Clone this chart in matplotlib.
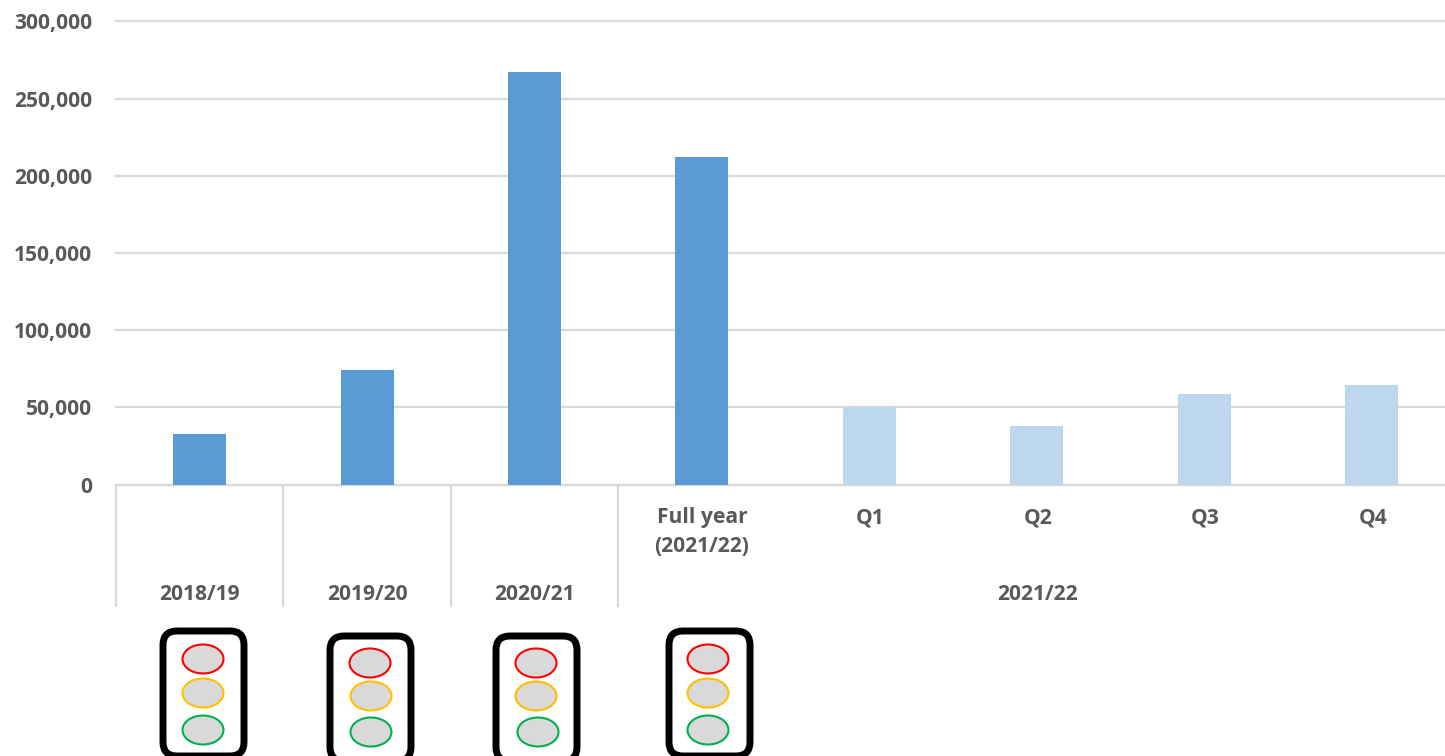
import matplotlib
matplotlib.use("Agg")
import matplotlib.pyplot as plt
from matplotlib.patches import Ellipse, FancyBboxPatch
from matplotlib.ticker import FuncFormatter

plt.rcParams["font.family"] = ["Open Sans", "DejaVu Sans"]

# Annual totals followed by the 2021/22 quarters
categories = ["2018/19", "2019/20", "2020/21", "Full year\n(2021/22)", "Q1", "Q2", "Q3", "Q4"]
annual_values = [32700, 74200, 267600, 212200]
quarter_values = [50200, 37900, 58600, 64500]
yticks = [0, 50000, 100000, 150000, 200000, 250000, 300000]

# Traffic light signs under the annual bars: box left, box top, light x, light y's
signs = [
    (160, 628, [203, 203, 203], [659, 693, 730]),
    (327, 633, [370, 371, 371], [663, 696, 732]),
    (493, 633, [536, 536, 538], [663, 696, 732]),
    (666, 628, [708, 708, 708], [659, 693, 730]),
]
light_edges = ["#ff0000", "#ffc000", "#00b050"]

W, H = 1445, 756
GREY = "#595959"
RULE = "#d9d9d9"
FS = 15.1

fig = plt.figure(figsize=(W / 100, H / 100), dpi=100)

# plot area runs off the right edge, one category is 167.4 px wide
ax = fig.add_axes([116 / W, 1 - 484.5 / H, (W - 116) / W, 463 / H])
ax.set_xlim(-0.5, -0.5 + (W - 116) / 167.4)
ax.set_ylim(0, 300000)

xs = list(range(len(categories)))
ax.bar(xs[:4], annual_values, width=0.316, color="#5b9bd5", zorder=3)
ax.bar(xs[4:], quarter_values, width=0.316, color="#bdd7ee", zorder=3)

ax.set_yticks(yticks)
ax.yaxis.set_major_formatter(FuncFormatter(lambda v, _: f"{int(v):,}"))
ax.tick_params(axis="y", length=0, pad=17, labelsize=FS, labelcolor=GREY)
for lab in ax.get_yticklabels():
    lab.set_fontweight("bold")
ax.set_xticks([])
ax.grid(axis="y", color=RULE, linewidth=1.6, zorder=0)
for gl in ax.get_ygridlines():
    gl.set_clip_on(False)
for name in ["top", "right", "left"]:
    ax.spines[name].set_visible(False)
ax.spines["bottom"].set_color(RULE)
ax.spines["bottom"].set_linewidth(1.6)

# overlay in pixel coordinates for the multi-level axis and the signs
ov = fig.add_axes([0, 0, 1, 1], facecolor="none")
ov.set_xlim(0, W)
ov.set_ylim(H, 0)
ov.axis("off")

for x in [116, 283, 451, 618]:
    ov.plot([x, x], [485, 607], color=RULE, linewidth=1.6, solid_capstyle="butt")

txt = dict(color=GREY, fontsize=FS, fontweight="bold", ha="center", va="center")
centres = [199.5, 367, 534, 702, 869, 1037, 1204, 1372]
for name, cx in zip(categories[:3], centres[:3]):
    ov.text(cx, 594, name, **txt)
ov.text(centres[3], 532, categories[3], linespacing=1.52, **txt)
for name, cx in zip(categories[4:], centres[4:]):
    ov.text(cx + 1, 518, name, **txt)
ov.text(1037, 594, "2021/22", **txt)

for left, top, lx, ly in signs:
    box = FancyBboxPatch((left + 3, top + 3), 81, 125,
                         boxstyle="round,pad=0,rounding_size=14",
                         facecolor="white", edgecolor="black", linewidth=5, clip_on=True)
    ov.add_patch(box)
    for cx, cy, edge in zip(lx, ly, light_edges):
        ov.add_patch(Ellipse((cx, cy), 41, 29, facecolor="#d9d9d9", edgecolor=edge, linewidth=1.5))

fig.savefig("out.png", dpi=100, facecolor="white")
